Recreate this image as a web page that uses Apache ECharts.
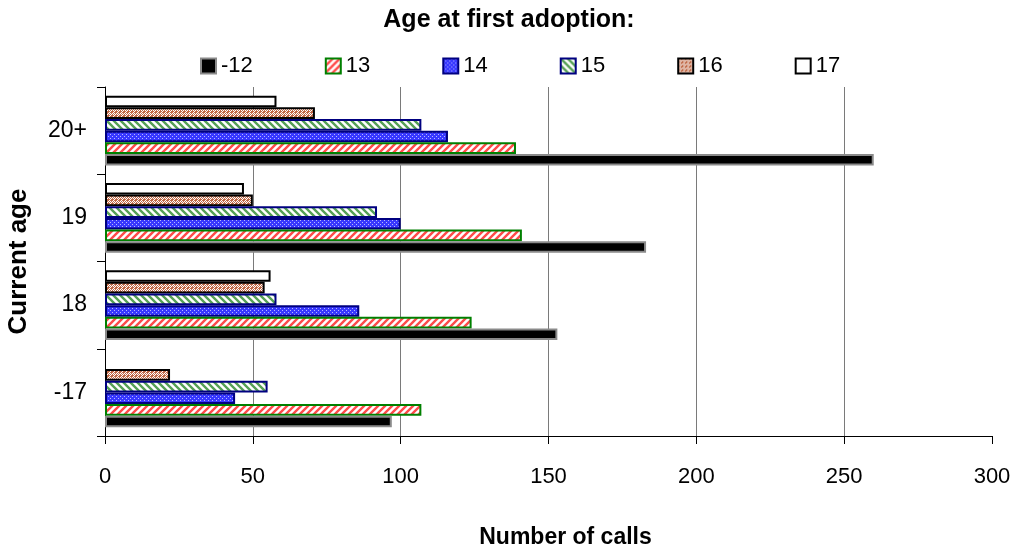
<!DOCTYPE html>
<html>
<head>
<meta charset="utf-8">
<script src="https://cdn.jsdelivr.net/npm/echarts@6/dist/echarts.min.js"></script>
<style>
html,body{margin:0;padding:0;background:#fff;}
#chart{width:1018px;height:549px;}
</style>
</head>
<body>
<div id="chart"></div>
<script>
var categories = ['-17', '18', '19', '20+'];
var seriesNames = ['-12', '13', '14', '15', '16', '17'];
var s_m12 = [97, 153, 183, 260];
var s_13 = [107, 124, 141, 139];
var s_14 = [44, 86, 100, 116];
var s_15 = [55, 58, 92, 107];
var s_16 = [22, 54, 50, 71];
var s_17 = [null, 56, 47, 58];
var xTicks = [0, 50, 100, 150, 200, 250, 300];

function tile(size, draw) {
  var c = document.createElement('canvas');
  c.width = size; c.height = size;
  var ctx = c.getContext('2d');
  draw(ctx, size);
  return { image: c, repeat: 'repeat' };
}
function stripes(col, dir) {
  return tile(7, function (ctx, s) {
    ctx.fillStyle = '#fff'; ctx.fillRect(0, 0, s, s);
    ctx.strokeStyle = col; ctx.lineWidth = 2.4;
    ctx.beginPath();
    if (dir === '/') {
      for (var k = -1; k <= 1; k++) { ctx.moveTo(k * s - 1, s + 1); ctx.lineTo(k * s + s + 1, -1); }
    } else {
      for (var k2 = -1; k2 <= 1; k2++) { ctx.moveTo(k2 * s - 1, -1); ctx.lineTo(k2 * s + s + 1, s + 1); }
    }
    ctx.stroke();
  });
}
function dots(bg, fg) {
  return tile(4, function (ctx, s) {
    ctx.fillStyle = bg; ctx.fillRect(0, 0, s, s);
    ctx.fillStyle = fg;
    ctx.fillRect(0, 0, 1, 1); ctx.fillRect(2, 2, 1, 1);
  });
}
function checker(bg, fg) {
  return tile(4, function (ctx, s) {
    ctx.fillStyle = bg; ctx.fillRect(0, 0, s, s);
    ctx.fillStyle = fg;
    ctx.fillRect(1, 0, 1, 1); ctx.fillRect(0, 1, 1, 1); ctx.fillRect(2, 1, 1, 1); ctx.fillRect(1, 2, 1, 1);
    ctx.fillRect(3, 2, 1, 1); ctx.fillRect(2, 3, 1, 1);
  });
}

var styles = [
  { color: '#000000', borderColor: '#8a8a8a', borderWidth: 2 },
  { color: stripes('#ff4a4a', '/'), borderColor: '#008000', borderWidth: 2 },
  { color: dots('#3838ff', '#b8b8ff'), borderColor: '#000080', borderWidth: 2 },
  { color: stripes('#55a055', '\\'), borderColor: '#000080', borderWidth: 2 },
  { color: checker('#c06a48', '#ffffff'), borderColor: '#000000', borderWidth: 2 },
  { color: '#ffffff', borderColor: '#000000', borderWidth: 2 }
];
var dataSets = [s_m12, s_13, s_14, s_15, s_16, s_17];

var FONT = 'Liberation Sans';
var series = seriesNames.map(function (n, i) {
  return {
    name: n,
    type: 'bar',
    data: dataSets[i],
    barGap: '0%',
    barCategoryGap: '20%',
    itemStyle: styles[i],
    emphasis: { disabled: true },
    animation: false
  };
}).reverse();

var chart = echarts.init(document.getElementById('chart'), null, { renderer: 'canvas' });
chart.setOption({
  backgroundColor: '#fff',
  animation: false,
  title: {
    text: 'Age at first adoption:',
    left: 'center',
    top: 3,
    textStyle: { fontFamily: FONT, fontSize: 25, fontWeight: 'bold', color: '#000' }
  },
  legend: {
    top: 50,
    left: 195,
    icon: 'rect',
    itemWidth: 15,
    itemHeight: 15,
    itemGap: 72,
    data: seriesNames,
    textStyle: { fontFamily: FONT, fontSize: 22, color: '#000' }
  },
  grid: { left: 105, right: 26, top: 87, bottom: 113, containLabel: false, outerBoundsMode: 'none' },
  xAxis: {
    type: 'value',
    min: 0,
    max: 300,
    interval: 50,
    name: 'Number of calls',
    nameLocation: 'middle',
    nameGap: 90,
    nameTextStyle: { fontFamily: FONT, fontSize: 23, fontWeight: 'bold', color: '#000', padding: [0, 0, 0, 34] },
    axisLine: { show: true, lineStyle: { color: '#000', width: 1 } },
    axisTick: { show: true, length: 8, lineStyle: { color: '#000' } },
    axisLabel: { fontFamily: FONT, fontSize: 22, color: '#000', margin: 30,
      formatter: function (v) { return xTicks.indexOf(v) >= 0 ? String(v) : ''; } },
    splitLine: { show: true, showMaxLine: false, lineStyle: { color: '#7a7a7a', width: 1 } }
  },
  yAxis: {
    type: 'category',
    data: categories,
    name: 'Current age',
    nameLocation: 'middle',
    nameGap: 73,
    nameRotate: 90,
    nameTextStyle: { fontFamily: FONT, fontSize: 26, fontWeight: 'bold', color: '#000' },
    axisLine: { show: true, lineStyle: { color: '#000', width: 1 } },
    axisTick: { show: true, length: 8, lineStyle: { color: '#000' } },
    axisLabel: { fontFamily: FONT, fontSize: 23, color: '#000', margin: 18 },
    splitLine: { show: false }
  },
  series: series
});
</script>
</body>
</html>
